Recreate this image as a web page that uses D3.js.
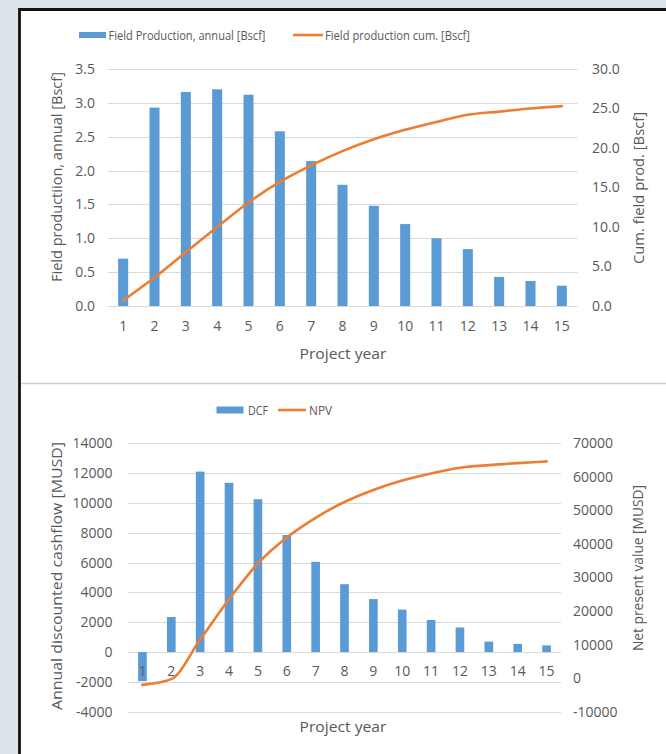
<!DOCTYPE html>
<html>
<head>
<meta charset="utf-8">
<script src="https://cdn.jsdelivr.net/npm/d3@7"></script>
<style>
  html, body { margin: 0; padding: 0; background: #dce3ea; }
  svg { display: block; }
  text { font-family: "Open Sans", "Noto Sans", sans-serif; fill: #595959; }
</style>
</head>
<body>
<svg id="chart" width="666" height="754"></svg>
<script>
// Project years (category axis)
const years = ["1","2","3","4","5","6","7","8","9","10","11","12","13","14","15"];

// Field production, annual [Bscf]
const prodAnnual = [0.70, 2.93, 3.16, 3.20, 3.12, 2.58, 2.14, 1.79, 1.48, 1.21, 1.00, 0.84, 0.43, 0.37, 0.30];
// Field production, cumulative [Bscf]
const prodCum = [0.7, 3.6, 6.8, 10.0, 13.1, 15.7, 17.8, 19.6, 21.1, 22.3, 23.3, 24.2, 24.6, 25.0, 25.3];

// Annual discounted cashflow [MUSD]
const dcf = [-1950, 2350, 12100, 11350, 10250, 7850, 6050, 4550, 3550, 2850, 2150, 1650, 700, 550, 450];
// Net present value [MUSD]
const npv = [-2000, -300, 11500, 23500, 34200, 41900, 47800, 52500, 56100, 58900, 61000, 62700, 63500, 64100, 64600];

// Tick values
const prodTicks = [0, 0.5, 1.0, 1.5, 2.0, 2.5, 3.0, 3.5];
const cumTicks = [0, 5, 10, 15, 20, 25, 30];
const dcfTicks = [-4000, -2000, 0, 2000, 4000, 6000, 8000, 10000, 12000, 14000];
const npvTicks = [-10000, 0, 10000, 20000, 30000, 40000, 50000, 60000, 70000];

const BLUE = "#5b9bd5", ORANGE = "#ed7d31", GRID = "#d9d9d9";
const plainInt = d => String(d);   // hyphen-minus for negatives

const svg = d3.select("#chart");

// white panel with dark frame on the top and left
svg.append("rect").attr("x", 20).attr("y", 10).attr("width", 646).attr("height", 744).attr("fill", "#ffffff");
svg.append("path").attr("d", "M19.5,754 V9.5 H666").attr("fill", "none").attr("stroke", "#111").attr("stroke-width", 2.8);
// divider between the two charts
svg.append("line").attr("x1", 21).attr("x2", 666).attr("y1", 383.5).attr("y2", 383.5)
  .attr("stroke", "#d0d0d0").attr("stroke-width", 1.5);

function fitText(sel, len) {
  if (len) sel.attr("textLength", len).attr("lengthAdjust", "spacingAndGlyphs");
  return sel;
}

function drawChart(cfg) {
  const g = svg.append("g");
  const x = d3.scaleBand().domain(years).range([cfg.x0, cfg.x1]).paddingInner(cfg.pad).paddingOuter(cfg.pad / 2);
  const yL = d3.scaleLinear().domain(cfg.leftDomain).range([cfg.yBottom, cfg.yTop]);
  const yR = d3.scaleLinear().domain(cfg.rightDomain).range([cfg.yBottom, cfg.yTop]);

  // gridlines follow the left axis
  g.append("g").selectAll("line").data(cfg.leftTicks).join("line")
    .attr("x1", cfg.x0).attr("x2", cfg.x1)
    .attr("y1", d => Math.round(yL(d)) + 0.5).attr("y2", d => Math.round(yL(d)) + 0.5)
    .attr("stroke", GRID).attr("stroke-width", 1);

  // left axis labels
  const leftAxis = d3.axisLeft(yL).tickValues(cfg.leftTicks).tickFormat(cfg.leftFmt).tickSize(0).tickPadding(0);
  const la = g.append("g").attr("transform", `translate(${cfg.leftLabelX},0)`).call(leftAxis);
  la.select(".domain").remove();
  la.selectAll("text").attr("fill", "#595959").attr("font-size", cfg.tickSize).attr("font-family", null);

  // right axis labels
  const rightAxis = d3.axisRight(yR).tickValues(cfg.rightTicks).tickFormat(cfg.rightFmt).tickSize(0).tickPadding(0);
  const ra = g.append("g").attr("transform", `translate(${cfg.rightLabelX},0)`).call(rightAxis);
  ra.select(".domain").remove();
  ra.selectAll("text").attr("fill", "#595959").attr("font-size", cfg.tickSize).attr("font-family", null);

  // bars
  g.append("g").selectAll("rect").data(cfg.bars).join("rect")
    .attr("x", (d, i) => x(years[i]))
    .attr("width", x.bandwidth())
    .attr("y", d => Math.min(yL(d), yL(0)))
    .attr("height", d => Math.abs(yL(d) - yL(0)))
    .attr("fill", BLUE);

  // category labels
  const bottomAxis = d3.axisBottom(x).tickSize(0).tickPadding(0);
  const ba = g.append("g").attr("transform", `translate(0,${cfg.catLabelY})`).call(bottomAxis);
  ba.select(".domain").remove();
  ba.selectAll("text").attr("fill", "#595959").attr("font-size", cfg.tickSize).attr("font-family", null);

  // smoothed line on the secondary axis
  const line = d3.line()
    .x((d, i) => x(years[i]) + x.bandwidth() / 2)
    .y(d => yR(d))
    .curve(d3.curveMonotoneX);
  g.append("path").datum(cfg.line).attr("d", line)
    .attr("fill", "none").attr("stroke", ORANGE).attr("stroke-width", 2.6).attr("stroke-linejoin", "round").attr("stroke-linecap", "round");

  // axis titles
  fitText(g.append("text").attr("transform", `translate(${cfg.leftTitleX},${cfg.leftTitleY}) rotate(-90)`)
    .attr("text-anchor", "middle").attr("dominant-baseline", "central").attr("font-size", cfg.titleSize)
    .text(cfg.leftTitle), cfg.leftTitleLen);
  fitText(g.append("text").attr("transform", `translate(${cfg.rightTitleX},${cfg.rightTitleY}) rotate(-90)`)
    .attr("text-anchor", "middle").attr("dominant-baseline", "central").attr("font-size", cfg.titleSize)
    .text(cfg.rightTitle), cfg.rightTitleLen);
  fitText(g.append("text").attr("x", cfg.xTitleX).attr("y", cfg.xTitleY)
    .attr("text-anchor", "middle").attr("dominant-baseline", "central").attr("font-size", cfg.titleSize)
    .text("Project year"), 87);

  // legend
  const lg = g.append("g");
  const L = cfg.legend;
  lg.append("rect").attr("x", L.rectX).attr("y", L.y - L.rectH / 2).attr("width", L.rectW).attr("height", L.rectH).attr("fill", BLUE);
  fitText(lg.append("text").attr("x", L.text1X).attr("y", L.y).attr("dominant-baseline", "central").attr("font-size", L.size).text(L.text1), L.text1Len);
  lg.append("line").attr("x1", L.lineX).attr("x2", L.lineX + L.lineW).attr("y1", L.y).attr("y2", L.y)
    .attr("stroke", ORANGE).attr("stroke-width", 2.6);
  fitText(lg.append("text").attr("x", L.text2X).attr("y", L.y).attr("dominant-baseline", "central").attr("font-size", L.size).text(L.text2), L.text2Len);
}

// Top: field production
drawChart({
  x0: 107.5, x1: 577.5, pad: 0.68,
  yTop: 69, yBottom: 306,
  leftDomain: [0, 3.5], rightDomain: [0, 30],
  leftTicks: prodTicks, rightTicks: cumTicks,
  leftFmt: d3.format(".1f"), rightFmt: d3.format(".1f"),
  leftLabelX: 95, rightLabelX: 592, tickSize: 14,
  bars: prodAnnual, line: prodCum,
  catLabelY: 321,
  titleSize: 14.5,
  leftTitle: "Field productiion, annual [Bscf]", leftTitleX: 56, leftTitleY: 177, leftTitleLen: 210,
  rightTitle: "Cum. field prod. [Bscf]", rightTitleX: 638, rightTitleY: 188, rightTitleLen: 152,
  xTitleX: 343, xTitleY: 353,
  legend: { y: 35, rectX: 79, rectW: 27, rectH: 6, text1X: 108.5, text1: "Field Production, annual [Bscf]", text1Len: 157,
            lineX: 293, lineW: 30, text2X: 325, text2: "Field production cum. [Bscf]", text2Len: 145, size: 13 }
});

// Bottom: discounted cashflow and NPV
drawChart({
  x0: 128, x1: 561, pad: 0.7,
  yTop: 443.3, yBottom: 711.7,
  leftDomain: [-4000, 14000], rightDomain: [-10000, 70000],
  leftTicks: dcfTicks, rightTicks: npvTicks,
  leftFmt: plainInt, rightFmt: plainInt,
  leftLabelX: 112.5, rightLabelX: 573, tickSize: 14,
  bars: dcf, line: npv,
  catLabelY: 666,
  titleSize: 14.5,
  leftTitle: "Annual discounted cashflow [MUSD]", leftTitleX: 56, leftTitleY: 576, leftTitleLen: 268,
  rightTitle: "Net present value [MUSD]", rightTitleX: 637, rightTitleY: 568, rightTitleLen: 166,
  xTitleX: 343, xTitleY: 726,
  legend: { y: 410, rectX: 216.5, rectW: 27, rectH: 7, text1X: 248, text1: "DCF", text1Len: 20,
            lineX: 278, lineW: 28, text2X: 309, text2: "NPV", text2Len: 23, size: 13 }
});
</script>
</body>
</html>
